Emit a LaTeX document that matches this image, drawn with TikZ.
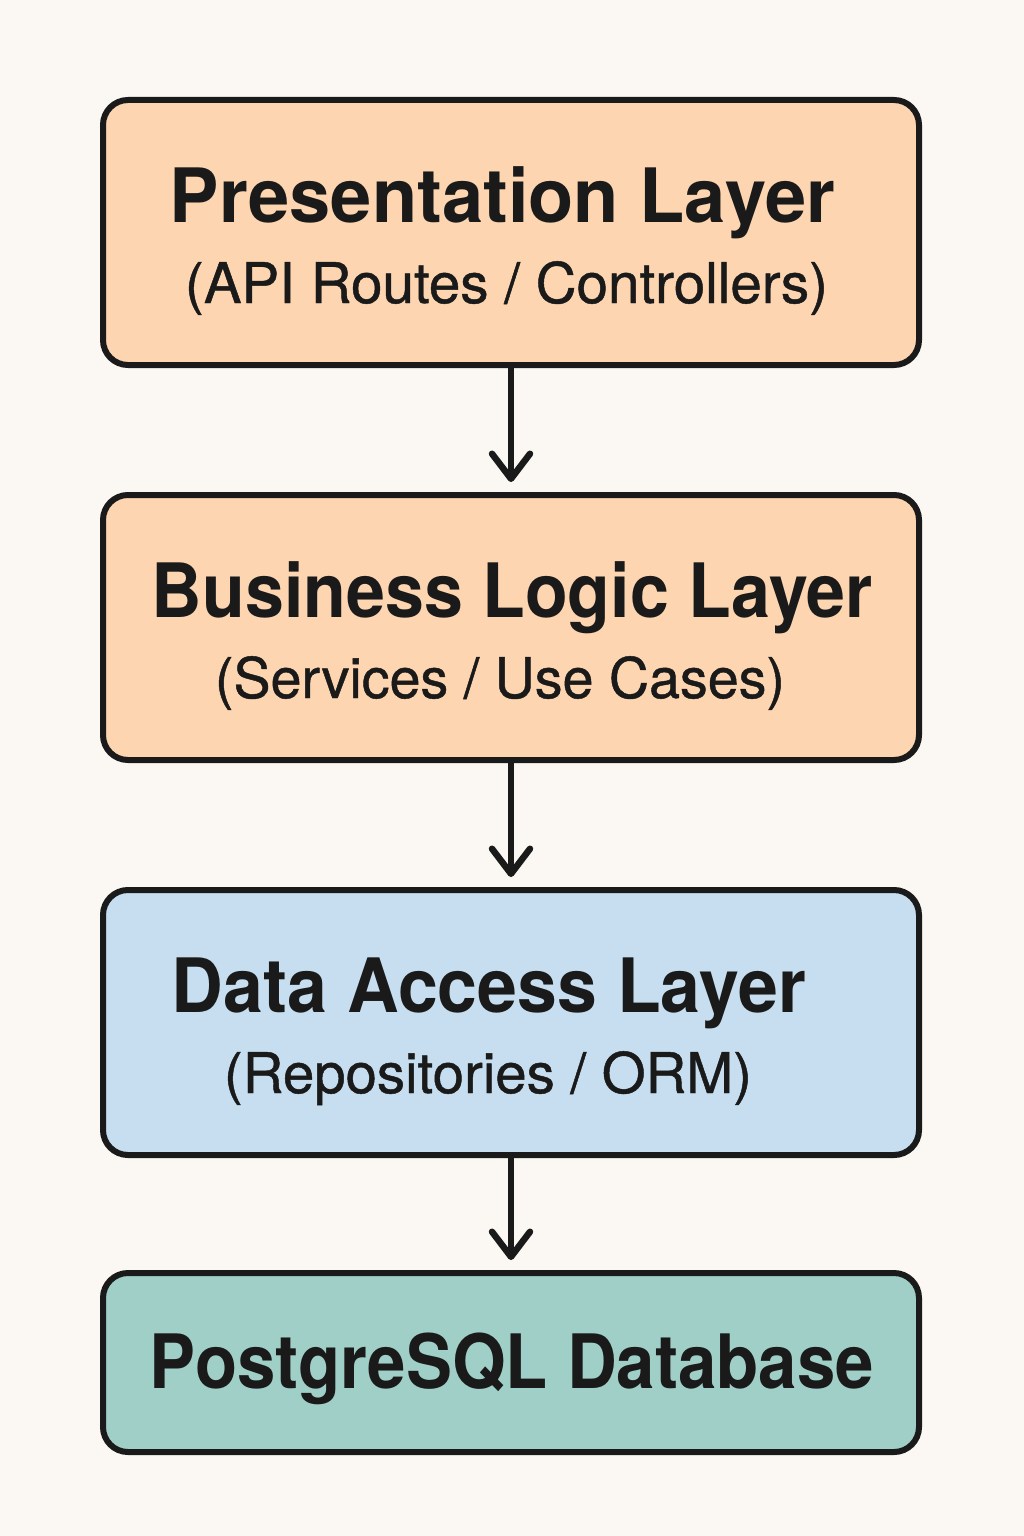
\documentclass[tikz,border=0pt]{standalone}
\usepackage{fontspec}
\setmainfont{TeX Gyre Heros}
\newfontfamily\subfont[FakeBold=0.8]{TeX Gyre Heros}
\usetikzlibrary{arrows.meta}
\definecolor{bgc}{HTML}{FBF8F3}
\definecolor{peach}{HTML}{FDD5B0}
\definecolor{skyb}{HTML}{C6DEEF}
\definecolor{tealc}{HTML}{A0CFC7}
\definecolor{inkc}{HTML}{1A1A1A}
\newcommand{\fitw}[2]{\resizebox{#1pt}{\height}{#2}}
\begin{document}
\begin{tikzpicture}[x=1pt,y=-1pt,
  layer/.style={draw=inkc, line width=6pt, rounded corners=25pt, minimum width=816pt, inner sep=0pt},
  ttl/.style={anchor=base, text=inkc, font=\fontsize{75}{80}\selectfont\bfseries, inner sep=0pt},
  sub/.style={anchor=base, text=inkc, font=\fontsize{56}{60}\selectfont\subfont, inner sep=0pt},
  flow/.style={draw=inkc, line width=6.5pt, line cap=round, shorten >=10pt,
    -{Straight Barb[length=25pt, width=38pt, line width=6.5pt, round]}}]
\fill[bgc] (0,0) rectangle (1024,1536);
\useasboundingbox (0,0) rectangle (1024,1536);
\node[layer, fill=peach, minimum height=265pt] (b1) at (511,232.5) {};
\node[layer, fill=peach, minimum height=265pt] (b2) at (511,627.5) {};
\node[layer, fill=skyb, minimum height=265pt] (b3) at (511,1022.5) {};
\node[layer, fill=tealc, minimum height=179pt] (b4) at (511,1362.5) {};
\node[ttl] (t1) at (502.5,222) {\fitw{665}{Presentation Layer}};
\node[sub] (s1) at (506.5,303) {\fitw{643}{(API Routes / Controllers)}};
\node[ttl] (t2) at (512.5,617) {\fitw{721}{Business Logic Layer}};
\node[sub] (s2) at (500,698) {\fitw{570}{(Services / Use Cases)}};
\node[ttl] (t3) at (489,1012) {\fitw{634}{Data Access Layer}};
\node[sub] (s3) at (488,1093) {\fitw{528}{(Repositories / ORM)}};
\node[ttl] (t4) at (512,1388) {\fitw{724}{PostgreSQL Database}};
\draw[flow] (b1.south) -- (b2.north);
\draw[flow] (b2.south) -- (b3.north);
\draw[flow] (b3.south) -- (b4.north);
\end{tikzpicture}
\end{document}
